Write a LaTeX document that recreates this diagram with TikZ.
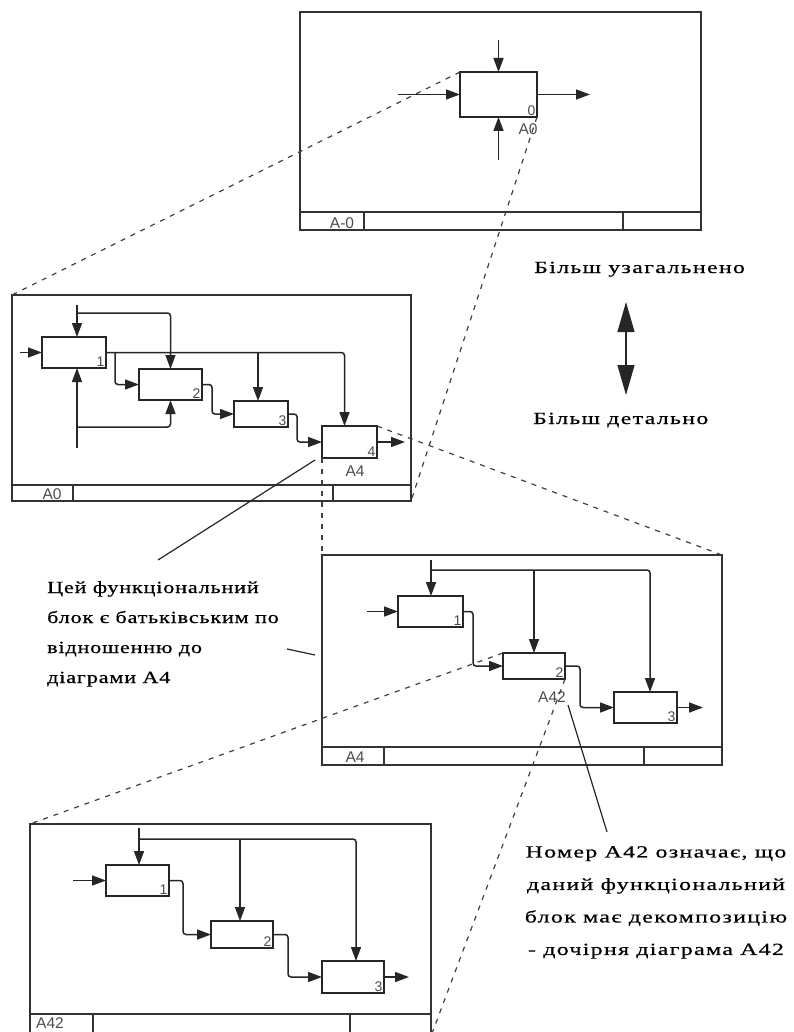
\documentclass[tikz,border=0pt]{standalone}
\usepackage{fontspec}
\setmainfont{Liberation Serif}
\newfontfamily\notefont[FakeStretch=1.4,LetterSpace=8,FakeBold=0.6]{Liberation Serif}
\newfontfamily\narrowfont[FakeStretch=1.3,LetterSpace=5,FakeBold=0.6]{Liberation Serif}
\newfontfamily\tagfont{Liberation Sans}
\usetikzlibrary{arrows.meta}

\begin{document}
\begin{tikzpicture}[x=1pt,y=-1pt,
  ln/.style={line width=1.5pt, draw=black!85},
  flow/.style={ln, rounded corners=3pt, -{Triangle[length=14pt,width=10pt]}},
  fn/.style={draw=black!85, line width=1.7pt, inner sep=0pt, outer sep=0pt},
  frame/.style={draw=black!80, line width=1.7pt, inner sep=0pt, outer sep=0pt, anchor=north west},
  rule/.style={draw=black!80, line width=1.7pt},
  num/.style={font=\tagfont\fontsize{14}{14}\selectfont, text=black!70, inner sep=1.5pt, anchor=south east},
  tag/.style={font=\tagfont\fontsize{15.5}{15.5}\selectfont, text=black!70, inner sep=0pt},
  zoomline/.style={draw=black!75, line width=1.2pt, dash pattern=on 5pt off 6pt},
  lead/.style={draw=black!85, line width=1.2pt},
  note/.style={font=\notefont\fontsize{17}{30}\selectfont, inner sep=0pt}
]
\useasboundingbox (0,0) rectangle (793,1032);
\clip (0,0) rectangle (793,1032);

% ---------- context diagram A-0 ----------
\node[frame, minimum width=401pt, minimum height=218pt] (F0) at (300,12) {};
\draw[rule] (300,212) -- (701,212);
\draw[rule] (364,212) -- (364,230);
\draw[rule] (623,212) -- (623,230);
\node[tag] (F0tag) at (342,223) {A-0};

\node[fn, minimum width=77pt, minimum height=45pt] (B0) at (498.5,94.5) {};
\node[num] (B0n) at (B0.south east) {0};
\node[tag] (B0ref) at (528,129) {A0};
\coordinate (t0c) at (498.5,40);
\coordinate (t0m) at (498.5,160);
\coordinate (t0i) at (398,94.5);
\draw[flow] (t0c) -- (B0.north);
\draw[flow] (t0m) -- (B0.south);
\draw[flow] (t0i) -- (B0.west);
\draw[flow] (B0.east) -- ++(53,0);

% ---------- decomposition A0 ----------
\node[frame, minimum width=399pt, minimum height=206pt] (F1) at (12,295) {};
\draw[rule] (12,485) -- (411,485);
\draw[rule] (73,485) -- (73,501);
\draw[rule] (333,485) -- (333,501);
\node[tag] (F1tag) at (52,494) {A0};

\node[fn, minimum width=64pt, minimum height=31pt] (A0b1) at (74,352.5) {};
\node[fn, minimum width=63pt, minimum height=31pt] (A0b2) at (170.5,384.5) {};
\node[fn, minimum width=54pt, minimum height=26pt] (A0b3) at (261,414) {};
\node[fn, minimum width=55pt, minimum height=32pt] (A0b4) at (349.5,442) {};
\node[num] at (A0b1.south east) {1};
\node[num] at (A0b2.south east) {2};
\node[num] at (A0b3.south east) {3};
\node[num] at (A0b4.south east) {4};
\node[tag] (A0b4ref) at (355,471) {A4};

\coordinate (a0i) at (20,352.5);
\coordinate (a0c) at (77,305);
\coordinate (a0cb) at (77,313);
\coordinate (a0m) at (77,448);
\coordinate (a0mb) at (77,427);
\draw[flow] (a0i) -- (A0b1.west);
\draw[flow] (a0c) -- (a0c |- A0b1.north);
\draw[flow] (a0cb) -| (A0b2.north);
\draw[flow] (A0b1.east) -| ([xshift=-5pt]A0b4.north);
\draw[flow] ([xshift=-3pt]A0b3.north |- A0b1.east) -- ([xshift=-3pt]A0b3.north);
\draw[flow] (A0b1.east) ++(9,0) |- (A0b2.west);
\draw[flow] (a0m) -- (a0m |- A0b1.south);
\draw[flow] (a0mb) -| (A0b2.south);
\draw[flow] (A0b2.east) -- ++(10,0) |- (A0b3.west);
\draw[flow] (A0b3.east) -- ++(9,0) |- (A0b4.west);
\draw[flow] (A0b4.east) -- ++(28,0);

% ---------- decomposition A4 ----------
\node[frame, minimum width=400pt, minimum height=210pt] (F2) at (322,555) {};
\draw[rule] (322,747) -- (722,747);
\draw[rule] (384,747) -- (384,765);
\draw[rule] (644,747) -- (644,765);
\node[tag] (F2tag) at (355,757) {A4};

\node[fn, minimum width=65pt, minimum height=31pt] (A4b1) at (430.5,611.5) {};
\node[fn, minimum width=62pt, minimum height=26pt] (A4b2) at (534,666) {};
\node[fn, minimum width=63pt, minimum height=31pt] (A4b3) at (645.5,707.5) {};
\node[num] at (A4b1.south east) {1};
\node[num] at (A4b2.south east) {2};
\node[num] at (A4b3.south east) {3};
\node[tag] (A4b2ref) at (552,697) {A42};

\coordinate (a4i) at (367,611.5);
\coordinate (a4c) at (431,560);
\coordinate (a4cb) at (431,570);
\draw[flow] (a4i) -- (A4b1.west);
\draw[flow] (a4c) -- (a4c |- A4b1.north);
\draw[flow] (a4cb) -| ([xshift=4.5pt]A4b3.north);
\draw[flow] (A4b2.north |- a4cb) -- (A4b2.north);
\draw[flow] (A4b1.east) -- ++(10,0) |- (A4b2.west);
\draw[flow] (A4b2.east) -- ++(15,0) |- (A4b3.west);
\draw[flow] (A4b3.east) -- ++(26,0);

% ---------- decomposition A42 ----------
\node[frame, minimum width=401pt, minimum height=212pt] (F3) at (30,824) {};
\draw[rule] (30,1014) -- (431,1014);
\draw[rule] (93,1014) -- (93,1036);
\draw[rule] (350,1014) -- (350,1036);
\node[tag] (F3tag) at (50,1023) {A42};

\node[fn, minimum width=63pt, minimum height=31pt] (A42b1) at (137.5,880.5) {};
\node[fn, minimum width=62pt, minimum height=27pt] (A42b2) at (242,934.5) {};
\node[fn, minimum width=62pt, minimum height=32pt] (A42b3) at (353,977) {};
\node[num] at (A42b1.south east) {1};
\node[num] at (A42b2.south east) {2};
\node[num] at (A42b3.south east) {3};

\coordinate (a42i) at (73,880.5);
\coordinate (a42c) at (139,828);
\coordinate (a42cb) at (139,839);
\draw[flow] (a42i) -- (A42b1.west);
\draw[flow] (a42c) -- (a42c |- A42b1.north);
\draw[flow] (a42cb) -| ([xshift=3pt]A42b3.north);
\draw[flow] ([xshift=-2pt]A42b2.north |- a42cb) -- ([xshift=-2pt]A42b2.north);
\draw[flow] (A42b1.east) -- ++(14,0) |- (A42b2.west);
\draw[flow] (A42b2.east) -- ++(15,0) |- (A42b3.west);
\draw[flow] (A42b3.east) -- ++(25,0);

% ---------- zoom lines between levels ----------
\draw[zoomline] (B0.north west) -- (F1.north west);
\draw[zoomline] (B0.south east) -- (F1.south east);
\draw[zoomline] (A0b4.south west) -- (F2.north west);
\draw[zoomline] (A0b4.north east) -- (F2.north east);
\draw[zoomline] (A4b2.north west) -- (F3.north west);
\draw[zoomline] (A4b2.south east) -- (F3.south east);

% ---------- level arrow and notes ----------
\node[note, anchor=base west] (more) at (534,273) {Більш узагальнено};
\node[note, anchor=base west] (less) at (533,424) {Більш детально};
\coordinate (up) at (626,302);
\coordinate (dn) at (626,395);
\draw[line width=1.2pt, black!85, {Triangle[length=30pt,width=17pt]}-{Triangle[length=30pt,width=17pt]}] (up) -- (dn);

\node[note, anchor=north west, align=left, font=\narrowfont\fontsize{17}{30}\selectfont] (note1) at (47,581)
  {Цей функціональний\\блок є батьківським по\\відношенню до\\діаграми А4};
\coordinate (lead1a) at (315,460);
\coordinate (lead1b) at (158,560);
\draw[lead] (lead1a) -- (lead1b);
\coordinate (tick1a) at (287,649);
\coordinate (tick1b) at (315,655);
\draw[lead] (tick1a) -- (tick1b);

\node[note, anchor=north, align=center, font=\notefont\fontsize{17}{32.5}\selectfont] (note2) at (656,846)
  {Номер А42 означає, що\\даний функціональний\\блок має декомпозицію\\- дочірня діаграма А42};
\coordinate (lead2a) at (568,705);
\coordinate (lead2b) at (607,832);
\draw[lead] (lead2a) -- (lead2b);
\end{tikzpicture}
\end{document}
